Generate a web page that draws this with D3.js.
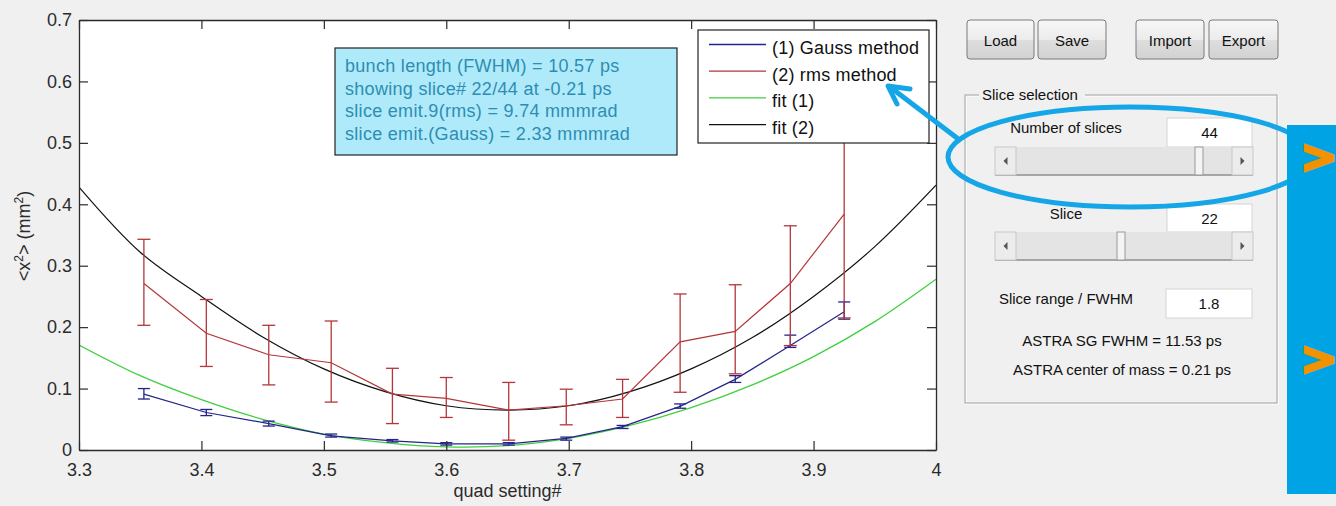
<!DOCTYPE html>
<html>
<head>
<meta charset="utf-8">
<script src="https://cdn.jsdelivr.net/npm/d3@7"></script>
<style>
  body { margin: 0; background: #f0f0f0; }
  svg { display: block; font-family: "Liberation Sans", Arial, sans-serif; }
</style>
</head>
<body>
<div id="chart"></div>
<script>
// measured quad settings (x) and the two beam size estimates
const quad = [3.353, 3.404, 3.455, 3.506, 3.556, 3.600, 3.651, 3.698, 3.744, 3.791, 3.836, 3.881, 3.925];

const gauss = [0.091, 0.061, 0.043, 0.023, 0.015, 0.010, 0.010, 0.019, 0.038, 0.071, 0.115, 0.170, 0.225];
const gaussLo = [0.083, 0.056, 0.039, 0.021, 0.013, 0.008, 0.008, 0.016, 0.035, 0.068, 0.110, 0.167, 0.213];
const gaussHi = [0.100, 0.066, 0.047, 0.026, 0.017, 0.012, 0.012, 0.021, 0.040, 0.075, 0.121, 0.187, 0.241];

const rms = [0.271, 0.190, 0.155, 0.142, 0.091, 0.084, 0.065, 0.072, 0.083, 0.176, 0.193, 0.271, 0.384];
const rmsLo = [0.203, 0.136, 0.106, 0.078, 0.043, 0.053, 0.016, 0.041, 0.053, 0.094, 0.124, 0.170, 0.215];
const rmsHi = [0.343, 0.245, 0.203, 0.210, 0.133, 0.118, 0.110, 0.099, 0.115, 0.254, 0.269, 0.365, 0.560];

// fit curves, every 0.05
const fitX = [3.30, 3.35, 3.40, 3.45, 3.50, 3.55, 3.60, 3.65, 3.70, 3.75, 3.80, 3.85, 3.90, 3.95, 4.00];
const fit1 = [0.171, 0.121, 0.082, 0.050, 0.026, 0.012, 0.005, 0.007, 0.019, 0.040, 0.069, 0.106, 0.152, 0.209, 0.278];
const fit2 = [0.428, 0.322, 0.250, 0.184, 0.132, 0.095, 0.072, 0.065, 0.072, 0.095, 0.132, 0.183, 0.250, 0.331, 0.431];

const xTicks = [3.3, 3.4, 3.5, 3.6, 3.7, 3.8, 3.9, 4.0];
const yTicks = [0, 0.1, 0.2, 0.3, 0.4, 0.5, 0.6, 0.7];

const legendLabels = ["(1) Gauss method", "(2) rms method", "fit (1)", "fit (2)"];
const infoLines = [
  "bunch length (FWHM) = 10.57 ps",
  "showing slice# 22/44 at -0.21 ps",
  "slice emit.9(rms) = 9.74 mmmrad",
  "slice emit.(Gauss) = 2.33 mmmrad",
];
const buttons = ["Load", "Save", "Import", "Export"];

const colGauss = "#24248a";
const colRms = "#b3363a";
const colFit1 = "#3fcf3f";
const colFit2 = "#111111";

const W = 1336, H = 506;
const margin = { top: 20, left: 79 };
const width = 857, height = 430;

const svg = d3.select("#chart").append("svg")
  .attr("width", W).attr("height", H);

svg.append("rect").attr("width", W).attr("height", H).attr("fill", "#f0f0f0");

const g = svg.append("g").attr("transform", `translate(${margin.left},${margin.top})`);

const x = d3.scaleLinear().domain([3.3, 4.0]).range([0, width]);
const y = d3.scaleLinear().domain([0, 0.7]).range([height, 0]);

g.append("rect").attr("width", width).attr("height", height).attr("fill", "#fff");

g.append("clipPath").attr("id", "plotClip")
  .append("rect").attr("width", width).attr("height", height);

const plot = g.append("g").attr("clip-path", "url(#plotClip)");

// fits
const fitLine = d3.line().x((d) => x(d[0])).y((d) => y(d[1])).curve(d3.curveCatmullRom);
plot.append("path")
  .attr("d", fitLine(fitX.map((v, i) => [v, fit1[i]])))
  .attr("fill", "none").attr("stroke", colFit1).attr("stroke-width", 1.3);
plot.append("path")
  .attr("d", fitLine(fitX.map((v, i) => [v, fit2[i]])))
  .attr("fill", "none").attr("stroke", colFit2).attr("stroke-width", 1.2);

// data with error bars
const series = [
  { vals: gauss, lo: gaussLo, hi: gaussHi, col: colGauss, cap: 6 },
  { vals: rms, lo: rmsLo, hi: rmsHi, col: colRms, cap: 6.5 },
];
const dataLine = d3.line().x((d) => x(d[0])).y((d) => y(d[1]));

series.forEach((s) => {
  const pts = quad.map((q, i) => ({ q: q, v: s.vals[i], lo: s.lo[i], hi: s.hi[i] }));
  plot.append("path")
    .attr("d", dataLine(pts.map((p) => [p.q, p.v])))
    .attr("fill", "none").attr("stroke", s.col).attr("stroke-width", 1.2);

  const eb = plot.append("g").attr("stroke", s.col).attr("stroke-width", 1.3)
    .selectAll("g").data(pts).join("g");
  eb.append("line")
    .attr("x1", (d) => x(d.q)).attr("x2", (d) => x(d.q))
    .attr("y1", (d) => y(d.lo)).attr("y2", (d) => y(d.hi));
  eb.append("line")
    .attr("x1", (d) => x(d.q) - s.cap).attr("x2", (d) => x(d.q) + s.cap)
    .attr("y1", (d) => y(d.lo)).attr("y2", (d) => y(d.lo));
  eb.append("line")
    .attr("x1", (d) => x(d.q) - s.cap).attr("x2", (d) => x(d.q) + s.cap)
    .attr("y1", (d) => y(d.hi)).attr("y2", (d) => y(d.hi));
});

// axes, matlab style: box with inward ticks
const fmtX = (d) => (d === 4 ? "4" : d3.format(".1f")(d));
const fmtY = (d) => (d === 0 ? "0" : d3.format(".1f")(d));
const styleAxis = (sel) => {
  sel.select(".domain").attr("stroke", "#2b2b2b").attr("stroke-width", 1.3);
  sel.selectAll(".tick line").attr("stroke", "#2b2b2b").attr("stroke-width", 1.2);
  sel.selectAll(".tick text").attr("fill", "#2b2b2b").style("font-size", "18px");
};

g.append("g").attr("transform", `translate(0,${height})`)
  .call(d3.axisBottom(x).tickValues(xTicks).tickFormat(fmtX).tickSizeInner(-9).tickSizeOuter(0).tickPadding(13))
  .call(styleAxis);
g.append("g")
  .call(d3.axisTop(x).tickValues(xTicks).tickFormat("").tickSizeInner(-9).tickSizeOuter(0))
  .call(styleAxis);
g.append("g")
  .call(d3.axisLeft(y).tickValues(yTicks).tickFormat(fmtY).tickSizeInner(-9).tickSizeOuter(0).tickPadding(7))
  .call(styleAxis);
g.append("g").attr("transform", `translate(${width},0)`)
  .call(d3.axisRight(y).tickValues(yTicks).tickFormat("").tickSizeInner(-9).tickSizeOuter(0))
  .call(styleAxis);
// let the svg font win over d3's axis defaults
svg.selectAll("g[font-family]").attr("font-family", null).attr("font-size", null);

// axis titles
svg.append("text")
  .attr("x", margin.left + x(3.65)).attr("y", 497)
  .attr("text-anchor", "middle").attr("fill", "#2b2b2b").style("font-size", "18px")
  .text("quad setting#");

const yl = svg.append("text")
  .attr("transform", "translate(30,236) rotate(-90)")
  .attr("text-anchor", "middle").attr("fill", "#2b2b2b").style("font-size", "18px");
yl.append("tspan").text("<x");
yl.append("tspan").attr("dy", -7).style("font-size", "12px").text("2");
yl.append("tspan").attr("dy", 7).text("> (mm");
yl.append("tspan").attr("dy", -7).style("font-size", "12px").text("2");
yl.append("tspan").attr("dy", 7).text(")");

// info box
svg.append("rect")
  .attr("x", 335).attr("y", 48).attr("width", 342).attr("height", 107)
  .attr("fill", "#aeeaf9").attr("stroke", "#222").attr("stroke-width", 1.2);
svg.append("g").selectAll("text").data(infoLines).join("text")
  .attr("x", 345).attr("y", (d, i) => 72 + i * 22.5)
  .attr("fill", "#2f8db3").style("font-size", "18px").style("letter-spacing", "0.3px")
  .text((d) => d);

// legend
const legend = svg.append("g").attr("transform", "translate(698,30)");
legend.append("rect").attr("width", 231).attr("height", 113)
  .attr("fill", "#fff").attr("stroke", "#222").attr("stroke-width", 1.2);
const legendCols = [colGauss, colRms, colFit1, colFit2];
const keys = legend.selectAll("g.key").data(legendLabels).join("g").attr("class", "key")
  .attr("transform", (d, i) => `translate(0,${14.5 + i * 26.7})`);
keys.append("line").attr("x1", 11).attr("x2", 68)
  .attr("stroke", (d, i) => legendCols[i]).attr("stroke-width", 1.3);
keys.append("text").attr("x", 74).attr("y", 9.5)
  .attr("fill", "#111").style("font-size", "18px").style("letter-spacing", "0.2px")
  .text((d) => d);

// ---- right side GUI panel ----
const defs = svg.append("defs");
const grad = defs.append("linearGradient").attr("id", "btnGrad").attr("x1", 0).attr("x2", 0).attr("y1", 0).attr("y2", 1);
grad.append("stop").attr("offset", "0%").attr("stop-color", "#f7f7f7");
grad.append("stop").attr("offset", "50%").attr("stop-color", "#ececec");
grad.append("stop").attr("offset", "51%").attr("stop-color", "#dedede");
grad.append("stop").attr("offset", "100%").attr("stop-color", "#d2d2d2");

const btnX = [967, 1038, 1136, 1209];
const btnW = [67, 68, 68, 69];
const btn = svg.append("g").selectAll("g").data(buttons).join("g")
  .attr("transform", (d, i) => `translate(${btnX[i]},20)`);
btn.append("rect").attr("width", (d, i) => btnW[i]).attr("height", 39).attr("rx", 3)
  .attr("fill", "url(#btnGrad)").attr("stroke", "#7a7a7a");
btn.append("text").attr("x", (d, i) => btnW[i] / 2).attr("y", 26)
  .attr("text-anchor", "middle").style("font-size", "15px").attr("fill", "#111")
  .text((d) => d);

// group box
svg.append("rect").attr("x", 966).attr("y", 96).attr("width", 312).attr("height", 308)
  .attr("fill", "none").attr("stroke", "#fff");
svg.append("rect").attr("x", 965).attr("y", 95).attr("width", 312).attr("height", 308)
  .attr("fill", "none").attr("stroke", "#a0a0a0");
svg.append("rect").attr("x", 979).attr("y", 86).attr("width", 106).attr("height", 16).attr("fill", "#f0f0f0");
svg.append("text").attr("x", 982).attr("y", 99.5).style("font-size", "15px").attr("fill", "#111")
  .text("Slice selection");

const editBox = (x0, y0, w, h, val) => {
  svg.append("rect").attr("x", x0).attr("y", y0).attr("width", w).attr("height", h)
    .attr("fill", "#fff").attr("stroke", "#d4d4d4");
  svg.append("text").attr("x", x0 + w / 2).attr("y", y0 + h / 2 + 5.5)
    .attr("text-anchor", "middle").style("font-size", "15px").attr("fill", "#111").text(val);
};
const slider = (y0, thumbX) => {
  const x0 = 995, x1 = 1253, h = 28;
  svg.append("rect").attr("x", x0).attr("y", y0).attr("width", x1 - x0).attr("height", h)
    .attr("fill", "#e4e4e4");
  svg.append("line").attr("x1", x0).attr("x2", x1).attr("y1", y0 + h).attr("y2", y0 + h)
    .attr("stroke", "#8f8f8f").attr("stroke-width", 1.5);
  [x0, x1 - 21].forEach((bx, i) => {
    svg.append("rect").attr("x", bx).attr("y", y0).attr("width", 21).attr("height", h)
      .attr("fill", "#ececec").attr("stroke", "#c8c8c8");
    const cx = bx + 10.5, cy = y0 + h / 2;
    const pts = i === 0
      ? [[cx + 2, cy - 4], [cx - 2, cy], [cx + 2, cy + 4]]
      : [[cx - 2, cy - 4], [cx + 2, cy], [cx - 2, cy + 4]];
    svg.append("polygon").attr("points", pts.join(" ")).attr("fill", "#555");
  });
  svg.append("rect").attr("x", thumbX).attr("y", y0).attr("width", 8).attr("height", h)
    .attr("fill", "#f4f4f4").attr("stroke", "#9a9a9a");
};

svg.append("text").attr("x", 1066).attr("y", 133).attr("text-anchor", "middle")
  .style("font-size", "15px").attr("fill", "#111").text("Number of slices");
editBox(1167, 118, 85, 29, "44");
slider(147, 1195);

svg.append("text").attr("x", 1066).attr("y", 219).attr("text-anchor", "middle")
  .style("font-size", "15px").attr("fill", "#111").text("Slice");
editBox(1167, 204, 85, 28, "22");
slider(232, 1117);

svg.append("text").attr("x", 1066).attr("y", 304).attr("text-anchor", "middle")
  .style("font-size", "15px").attr("fill", "#111").text("Slice range / FWHM");
editBox(1166, 289, 86, 29, "1.8");

svg.append("text").attr("x", 1122).attr("y", 346).attr("text-anchor", "middle")
  .style("font-size", "15px").attr("fill", "#111").text("ASTRA SG FWHM = 11.53 ps");
svg.append("text").attr("x", 1122).attr("y", 375).attr("text-anchor", "middle")
  .style("font-size", "15px").attr("fill", "#111").text("ASTRA center of mass = 0.21 ps");

// annotation: ellipse + arrow
const annCol = "#14a6e6";
svg.append("ellipse").attr("cx", 1130).attr("cy", 157).attr("rx", 182).attr("ry", 50)
  .attr("fill", "none").attr("stroke", annCol).attr("stroke-width", 5);
svg.append("line").attr("x1", 957).attr("y1", 138).attr("x2", 890).attr("y2", 87)
  .attr("stroke", annCol).attr("stroke-width", 5).attr("stroke-linecap", "round");
svg.append("polyline").attr("points", "910,89 888,86 897,104")
  .attr("fill", "none").attr("stroke", annCol).attr("stroke-width", 5)
  .attr("stroke-linecap", "round").attr("stroke-linejoin", "round");

// blue side tab
svg.append("rect").attr("x", 1287).attr("y", 125).attr("width", 49).attr("height", 369)
  .attr("fill", "#00a3e4");
// chevrons, thickened with a stroke in the same orange
svg.append("g").selectAll("text").data([156, 358]).join("text")
  .attr("x", 1319).attr("y", (d) => d + 16).attr("text-anchor", "middle")
  .attr("font-family", "'DejaVu Sans', sans-serif")
  .style("font-size", "44px").style("font-weight", "bold")
  .attr("fill", "#f39200").attr("stroke", "#f39200").attr("stroke-width", 3)
  .text(">");
</script>
</body>
</html>
